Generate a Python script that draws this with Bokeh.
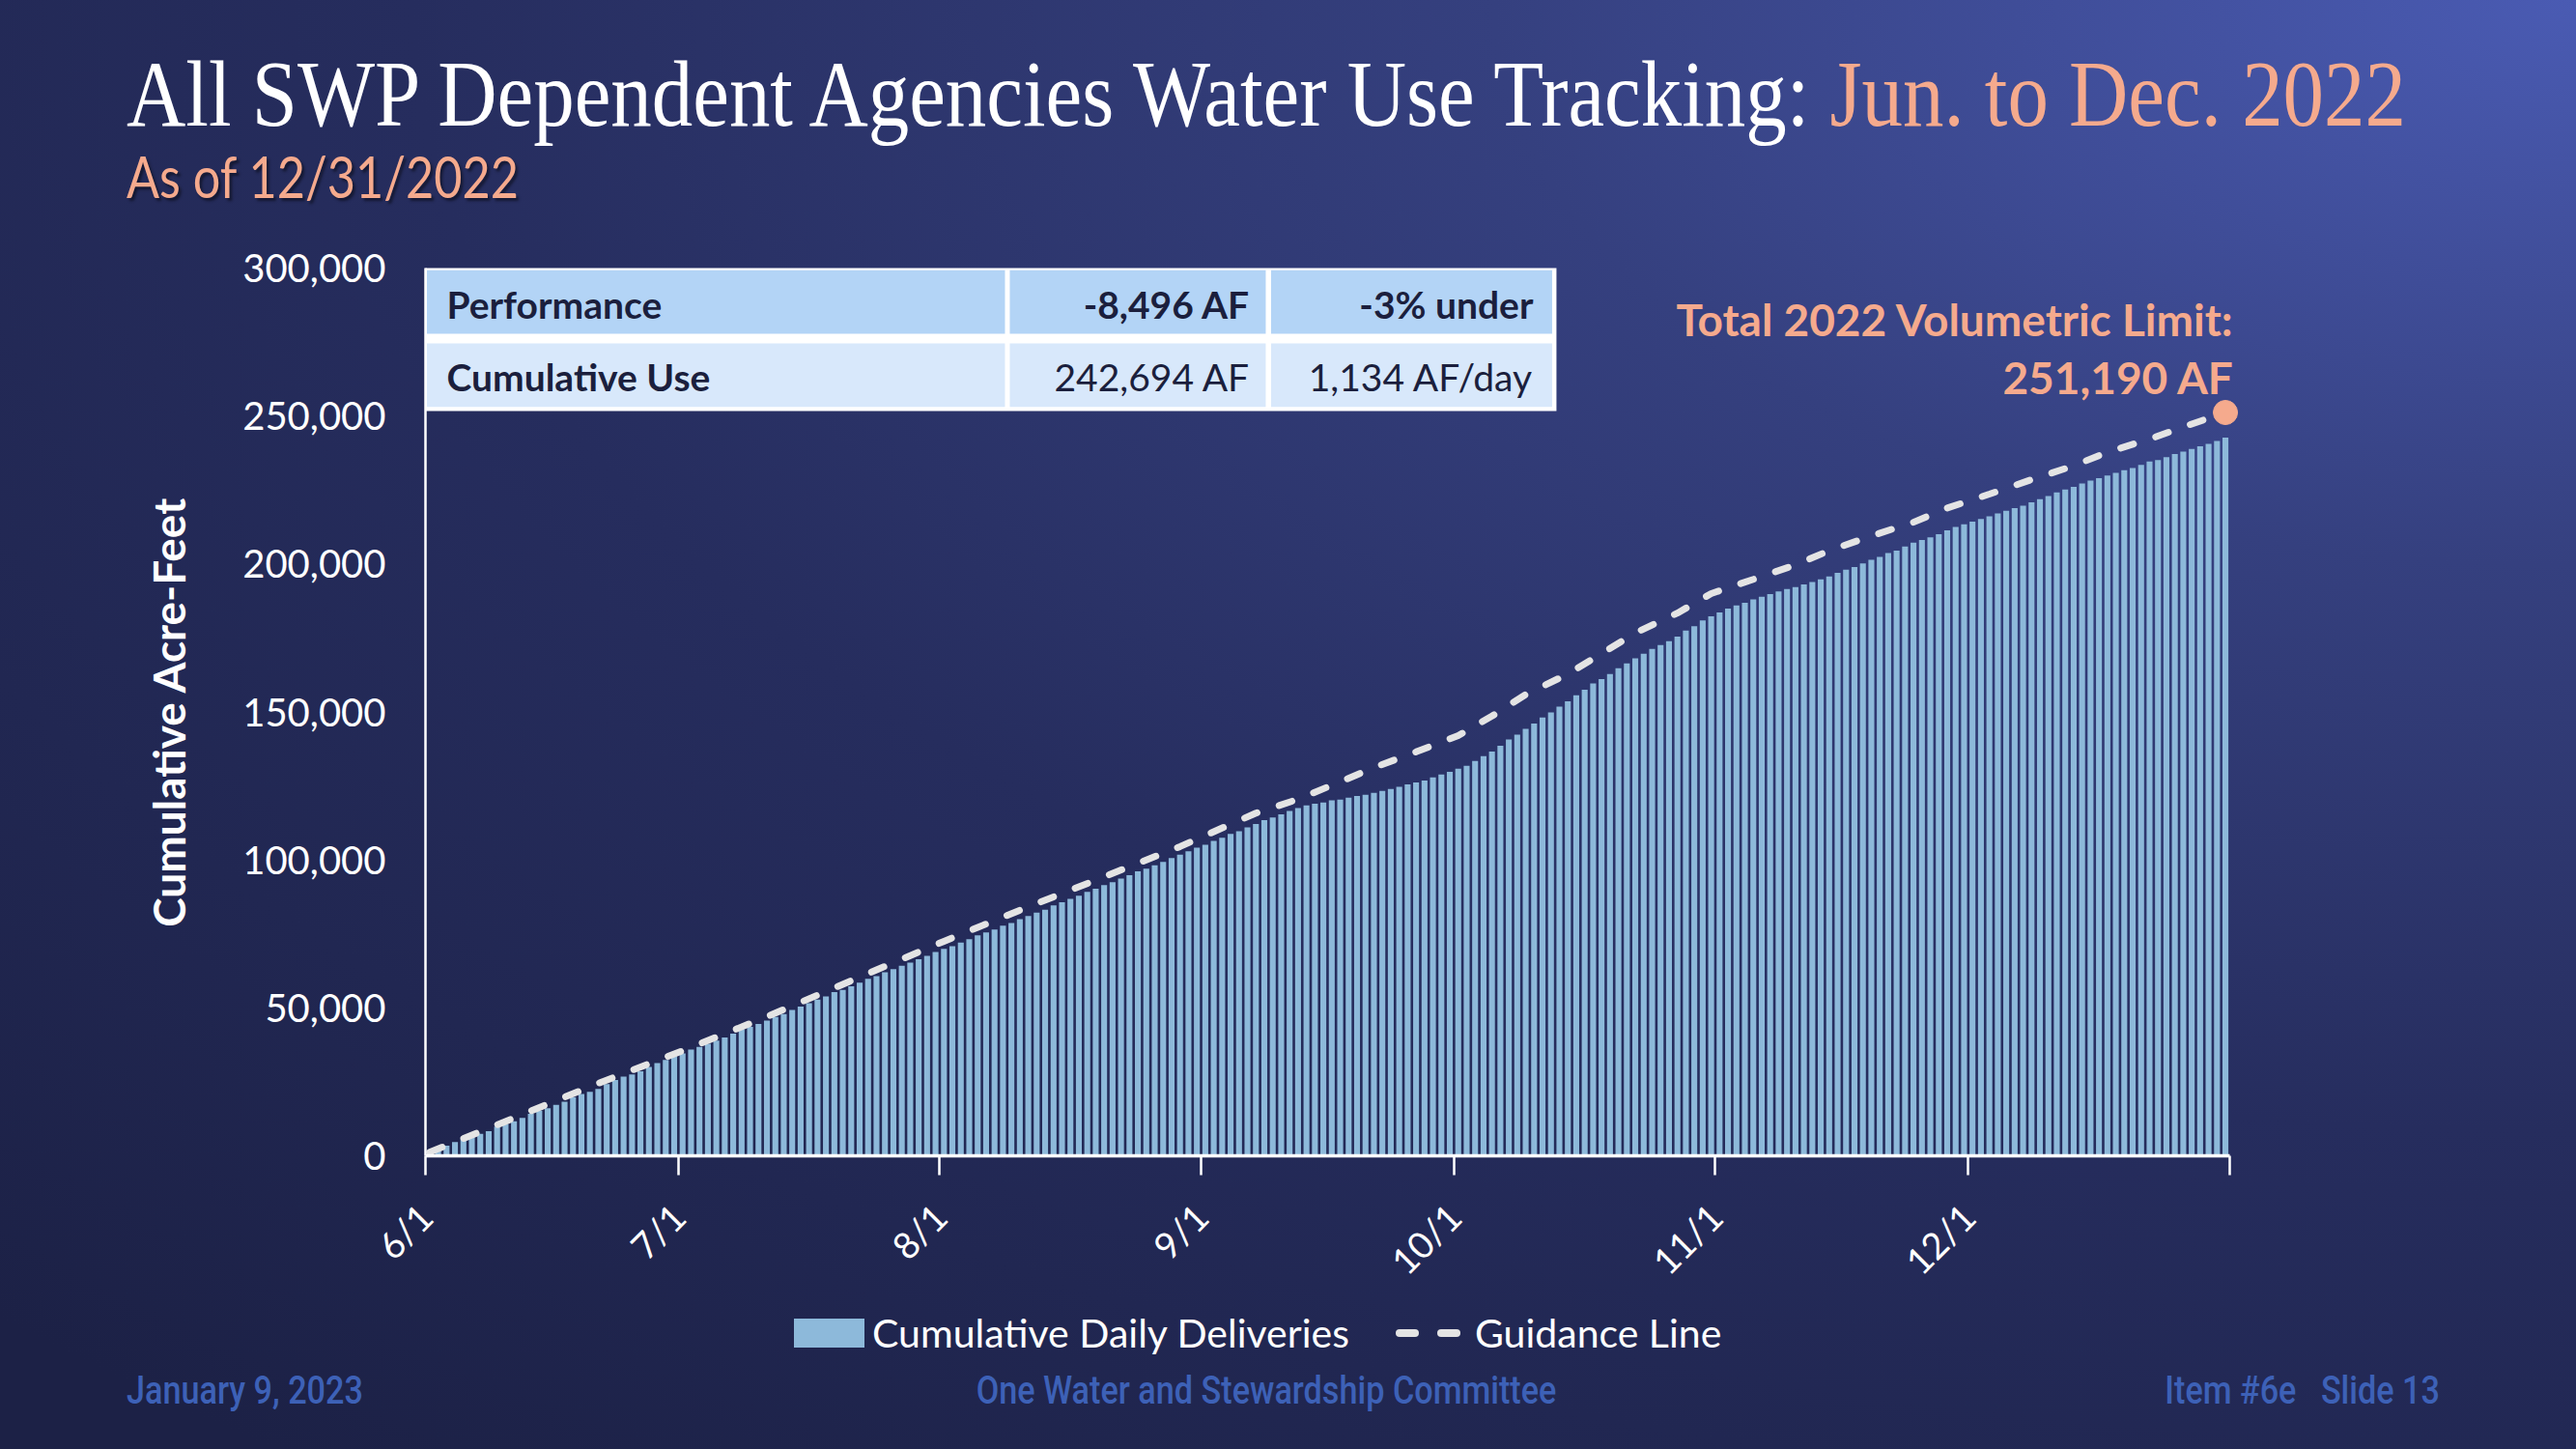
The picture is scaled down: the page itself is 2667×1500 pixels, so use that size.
import math
import pandas as pd
from bokeh.plotting import figure
from bokeh.layouts import column
from bokeh.models import (ColumnDataSource, FixedTicker, NumeralTickFormatter, Label, Range1d, Div)
from bokeh.core.properties import value
from bokeh.embed import file_html
from bokeh.resources import INLINE

# cumulative daily deliveries (AF), one value per day
jun = [1150, 2300, 3450, 4650, 5600, 6400, 7400, 8300, 9900, 10700, 11700, 12800, 14200, 15300, 16100,
       17200, 18300, 19800, 20900, 21600, 22600, 24200, 25600, 26800, 27500, 28600, 30000, 31300, 32400, 33700]
jul = [34600, 35900, 36800, 37900, 38900, 40000, 41300, 42800, 43600, 44600, 45700, 46900, 47900, 49300, 50400,
       51600, 52800, 53900, 55300, 56100, 57300, 58500, 59800, 60700, 62000, 63100, 64200, 65300, 66400, 67600, 68900]
aug = [69900, 70800, 72100, 73200, 74500, 75500, 76500, 77800, 78700, 80000, 81000, 82200, 83200, 84600, 85700,
       86800, 87900, 89200, 90300, 91500, 92500, 93700, 94800, 96100, 97000, 98200, 99300, 100600, 101800, 102900, 104100]
sep = [105100, 106400, 107500, 108800, 109700, 111000, 112100, 113400, 114300, 115400, 116500, 117500, 118400, 119000, 119400,
       120100, 120400, 121000, 121600, 122000, 122700, 123300, 124000, 124700, 125500, 126200, 126800, 127900, 128900, 129800]
octo = [130800, 131800, 133400, 135100, 136600, 138600, 140700, 142300, 144300, 146100, 148100, 149800, 151800, 153600, 155600,
        157500, 159600, 161100, 162800, 164800, 166400, 168100, 169700, 171300, 172600, 173900, 175500, 177500, 179000, 180900, 182300]
nov = [183600, 184900, 186000, 186900, 188000, 188900, 189800, 190700, 191500, 192200, 193100, 193900, 194800, 195800, 197000,
       198100, 199000, 200200, 201400, 202400, 203700, 204500, 205900, 207200, 208100, 209000, 210100, 211400, 212500, 213400]
dec = [214300, 215200, 216100, 217100, 218000, 218900, 219700, 220800, 221900, 223000, 224200, 225200, 226100, 227200, 228200,
       229000, 229900, 230800, 231700, 232400, 233500, 234600, 235100, 236100, 237200, 238000, 238900, 239800, 240600, 241600, 242694]
cumulative = jun + jul + aug + sep + octo + nov + dec

# guidance line, read at points along the dashes
guide_dates = ["2022-06-01", "2022-06-11", "2022-06-21", "2022-07-01", "2022-07-11", "2022-07-23", "2022-08-01",
               "2022-08-10", "2022-08-20", "2022-08-29", "2022-09-07", "2022-09-12", "2022-09-17", "2022-09-21",
               "2022-09-26", "2022-10-01", "2022-10-05", "2022-10-09", "2022-10-14", "2022-10-18", "2022-10-22",
               "2022-10-27", "2022-10-31", "2022-11-05", "2022-11-10", "2022-11-14", "2022-11-19", "2022-11-24",
               "2022-11-28", "2022-12-03", "2022-12-08", "2022-12-13", "2022-12-17", "2022-12-22", "2022-12-27",
               "2022-12-31"]
guide_af = [1200, 12800, 24500, 35500, 47000, 61600, 72500, 83000, 94300, 104500, 115800, 120500, 126400, 131200,
            136500, 142000, 148600, 155900, 162800, 169700, 176700, 183400, 190000, 194800, 199700, 204500, 209500,
            214100, 218900, 223600, 228500, 233200, 237800, 242200, 247300, 251190]

limit_af = 251190
y_ticks = [0, 50000, 100000, 150000, 200000, 250000, 300000]
month_starts = ["2022-06-01", "2022-07-01", "2022-08-01", "2022-09-01", "2022-10-01", "2022-11-01", "2022-12-01", "2023-01-01"]
month_labels = ["6/1", "7/1", "8/1", "9/1", "10/1", "11/1", "12/1", ""]

perf_row = ["Performance", "-8,496 AF", "-3% under"]
use_row = ["Cumulative Use", "242,694 AF", "1,134 AF/day"]

start = pd.Timestamp("2022-06-01")
dates = pd.date_range("2022-06-01", "2022-12-31", freq="D")
ndays = len(dates)
bar_x = [(d - start).days + 0.5 for d in dates]
guide_x = [(pd.Timestamp(d) - start).days + 0.5 for d in guide_dates]
tick_x = [(pd.Timestamp(d) - start).days for d in month_starts]

SALMON = "#F5AA8D"
WHITE = "#FFFFFF"
NAVY = "#1B1F3D"
FOOT = "#3D61B7"
BAR = "#8DB9DA"
DASH = "#E4E4E4"

# page geometry
W = 2667
FL, FT, FB = 440, 277, 1196          # frame left / top / bottom on the page
HEAD_H = 248
PLOT_H = FB - HEAD_H + 160
FOOT_H = 1500 - HEAD_H - PLOT_H
FOOT_Y = HEAD_H + PLOT_H
PXDAY = 1868 / ndays
XMAX = ndays + 1.5
FW = int(round(PXDAY * XMAX))


def dx(px):
    return (px - FL) / PXDAY


def dy(py):
    return (FB - py) * 300000 / (FB - FT)


p = figure(width=W, height=PLOT_H, output_backend="svg", toolbar_location=None,
           x_range=Range1d(0, XMAX), y_range=Range1d(0, 300000),
           min_border_left=FL, min_border_top=FT - HEAD_H, min_border_right=W - FL - FW,
           min_border_bottom=HEAD_H + PLOT_H - FB,
           background_fill_color=None, border_fill_color=None, outline_line_color=None)
p.xgrid.visible = False
p.ygrid.visible = False

src = ColumnDataSource(dict(x=bar_x, af=cumulative))
p.vbar(x="x", top="af", bottom=0, width=0.7, source=src, fill_color=BAR, line_color=None)
p.line(guide_x, guide_af, line_color=DASH, line_width=7, line_dash="14 24", line_cap="round")
p.scatter([guide_x[-1]], [limit_af], size=25, color=SALMON)

# axes
p.yaxis.ticker = FixedTicker(ticks=y_ticks)
p.yaxis.formatter = NumeralTickFormatter(format="0,0")
p.yaxis.major_tick_line_color = None
p.yaxis.minor_tick_line_color = None
p.yaxis.axis_line_color = WHITE
p.yaxis.axis_line_width = 2.5
p.yaxis.major_label_standoff = 35
p.yaxis.major_label_text_color = WHITE
p.yaxis.major_label_text_font = "Lato"
p.yaxis.major_label_text_font_size = "40px"
p.yaxis.axis_label = "Cumulative Acre-Feet"
p.yaxis.axis_label_text_color = WHITE
p.yaxis.axis_label_text_font = "Lato"
p.yaxis.axis_label_text_font_style = "bold"
p.yaxis.axis_label_text_font_size = "46px"
p.yaxis.axis_label_standoff = 46

p.xaxis.ticker = FixedTicker(ticks=tick_x)
p.xaxis.major_label_overrides = {t: lab for t, lab in zip(tick_x, month_labels)}
p.xaxis.bounds = (0, ndays)
p.xaxis.minor_tick_line_color = None
p.xaxis.major_tick_in = 0
p.xaxis.major_tick_out = 20
p.xaxis.major_tick_line_color = WHITE
p.xaxis.major_tick_line_width = 2.5
p.xaxis.axis_line_color = WHITE
p.xaxis.axis_line_width = 3.5
p.xaxis.major_label_orientation = math.pi / 4
p.xaxis.major_label_standoff = 36
p.xaxis.major_label_text_color = WHITE
p.xaxis.major_label_text_font = "Lato"
p.xaxis.major_label_text_font_size = "38px"

# performance table in the top-left corner of the plot
p.quad(left=[dx(437)], right=[dx(1611)], top=[dy(275)], bottom=[dy(425)], fill_color=WHITE, line_color=None)
cols = [(441.5, 1040), (1045, 1310), (1315.5, 1606.5)]
rows = [(279.3, 345, "#B3D4F6", perf_row, ["bold", "bold", "bold"]),
        (355, 420.7, "#D8E8FB", use_row, ["bold", "normal", "normal"])]
for top, bot, fill, texts, styles in rows:
    p.quad(left=[dx(c[0]) for c in cols], right=[dx(c[1]) for c in cols],
           top=[dy(top)] * 3, bottom=[dy(bot)] * 3, fill_color=fill, line_color=None)
    ymid = dy((top + bot) / 2 + 2)
    xs = [dx(462), dx(1294), dx(1587)]
    aligns = ["left", "right", "right"]
    for xx, t, al, st in zip(xs, texts, aligns, styles):
        p.text(x=[xx], y=[ymid], text=[t], text_align=al, text_baseline="middle",
               text_font=value("Lato"), text_font_size="39px", text_font_style=st, text_color=NAVY)

for py, txt in [(330, "Total 2022 Volumetric Limit:"), (390, "251,190 AF")]:
    p.add_layout(Label(x=dx(2313), y=dy(py), text=txt, text_align="right", text_baseline="middle",
                       text_font="Lato", text_font_size="46px", text_font_style="bold", text_color=SALMON))

# slide header
head_html = f"""
<div style="position:relative;width:{W}px;height:{HEAD_H}px;">
  <div style="position:absolute;left:131px;top:49px;white-space:nowrap;font-family:'Liberation Serif';
       font-size:97px;line-height:1;color:{WHITE};transform:scaleX(0.875);transform-origin:left top;">
    All SWP Dependent Agencies Water Use Tracking: <span style="color:{SALMON};">Jun. to Dec. 2022</span></div>
  <div style="position:absolute;left:131px;top:152px;white-space:nowrap;font-family:'Lato';
       font-size:60px;line-height:1;color:{SALMON};transform:scaleX(0.84);transform-origin:left top;
       text-shadow:3px 3px 3px rgba(0,0,0,0.45);">As of 12/31/2022</div>
</div>"""

# legend and slide footer
leg_text = f"position:absolute;top:{1380 - 22 - FOOT_Y}px;white-space:nowrap;font-family:'Lato';font-size:41px;line-height:44px;color:{WHITE};"
dash = f"position:absolute;top:{1380 - 4 - FOOT_Y}px;width:24px;height:8px;border-radius:4px;background:{DASH};"
foot_style = (f"position:absolute;top:{1420 - FOOT_Y}px;width:1000px;white-space:nowrap;font-family:'Roboto';"
              f"font-weight:500;font-size:40px;line-height:1;color:{FOOT};")
foot_html = f"""
<div style="position:relative;width:{W}px;height:{FOOT_H}px;">
  <div style="position:absolute;left:822px;top:{1365 - FOOT_Y}px;width:73px;height:30px;background:{BAR};"></div>
  <div style="{leg_text}left:903px;">Cumulative Daily Deliveries</div>
  <div style="{dash}left:1445px;"></div>
  <div style="{dash}left:1488px;"></div>
  <div style="{leg_text}left:1527px;">Guidance Line</div>
  <div style="{foot_style}left:131px;text-align:left;transform:scaleX(0.855);transform-origin:left top;">January 9, 2023</div>
  <div style="{foot_style}left:811px;text-align:center;transform:scaleX(0.855);transform-origin:center top;">One Water and Stewardship Committee</div>
  <div style="{foot_style}left:1526px;text-align:right;transform:scaleX(0.855);transform-origin:right top;">Item #6e&nbsp;&nbsp;&nbsp;Slide 13</div>
</div>"""
header = Div(text=head_html, width=W, height=HEAD_H, margin=0)
footer = Div(text=foot_html, width=W, height=FOOT_H, margin=0)

page = column(header, p, footer, spacing=0, width=W, height=HEAD_H + PLOT_H + FOOT_H,
              styles={"background": "radial-gradient(ellipse 140% 130% at 100% 0%, #4A5BB3 0%, #35407F 30%, #262D5E 60%, #1C2146 100%)"})

open("out.html", "w").write(file_html(page, INLINE))
